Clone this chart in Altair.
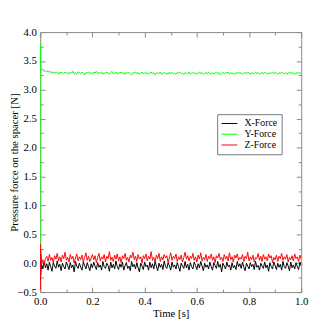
import altair as alt
import pandas as pd

# ---- data ----
t_start = [0.0, 0.0005, 0.001, 0.0015, 0.002, 0.003, 0.004]
t_grid = [round(0.005 * (i + 1), 3) for i in range(200)]
times = t_start + t_grid

x_force = [0.0, -0.30, 0.10, -0.15, 0.05, -0.10, 0.02,
    -0.02,-0.10,0.03,-0.08,-0.01,-0.12,0.02,-0.06,-0.14,0.01,-0.05,-0.09,0.04,-0.07,-0.02,-0.13,0.00,-0.06,-0.10,0.02,
    -0.04,-0.11,0.01,-0.08,-0.03,-0.15,0.03,-0.05,-0.09,0.00,-0.07,-0.12,0.02,-0.04,-0.10,0.01,-0.06,-0.13,-0.01,-0.08,
    0.02,-0.05,-0.11,0.01,-0.07,-0.03,-0.12,0.03,-0.06,-0.09,0.00,-0.04,-0.14,0.02,-0.08,-0.02,-0.10,0.04,-0.06,-0.11,
    -0.01,-0.07,0.02,-0.12,-0.04,0.01,-0.09,-0.05,-0.13,0.03,-0.06,-0.02,-0.10,0.01,-0.08,-0.15,0.00,-0.05,-0.11,0.02,
    -0.06,-0.03,-0.12,0.02,-0.08,-0.01,-0.10,0.03,-0.05,-0.13,0.00,-0.07,-0.02,-0.11,0.04,-0.06,-0.09,0.01,-0.04,-0.12,
    0.02,-0.07,-0.03,-0.10,0.01,-0.06,-0.14,0.00,-0.05,-0.09,0.03,-0.08,-0.02,-0.12,0.01,-0.06,-0.10,0.02,-0.04,-0.11,
    -0.01,-0.08,0.03,-0.05,-0.13,0.00,-0.07,-0.03,-0.10,0.02,-0.06,-0.12,0.01,-0.04,-0.09,0.03,-0.07,-0.02,-0.15,0.00,
    -0.05,-0.10,0.02,-0.06,-0.03,-0.12,0.01,-0.08,-0.04,-0.11,0.03,-0.06,-0.01,-0.09,0.02,-0.07,-0.13,0.00,-0.05,-0.10,
    0.01,-0.06,-0.02,-0.11,0.03,-0.07,-0.04,-0.12,0.00,-0.05,-0.09,0.02,-0.08,-0.03,-0.14,0.01,-0.06,-0.10,0.02,-0.04,
    -0.11,0.00,-0.07,-0.02,-0.12,0.03,-0.06,-0.09,0.01,-0.05,-0.13,0.02,-0.08,-0.03,-0.10,0.01,-0.06,-0.11,0.02,-0.05]

y_force = [0.0, 3.80, 3.55, 3.42, 3.38, 3.36, 3.35,
    3.34,3.36,3.32,3.33,3.31,3.33,3.30,3.32,3.29,3.31,3.28,3.31,3.30,3.27,3.31,3.29,3.30,3.28,3.31,3.29,
    3.30,3.27,3.31,3.29,3.32,3.28,3.30,3.27,3.31,3.30,3.28,3.31,3.29,3.26,3.30,3.29,3.31,3.28,3.30,3.27,
    3.31,3.29,3.32,3.28,3.30,3.29,3.31,3.27,3.30,3.28,3.31,3.29,3.27,3.30,3.32,3.28,3.29,3.31,3.27,3.30,
    3.29,3.31,3.28,3.30,3.27,3.31,3.29,3.30,3.28,3.26,3.30,3.29,3.31,3.28,3.30,3.27,3.29,3.31,3.28,3.30,
    3.28,3.30,3.27,3.29,3.31,3.28,3.30,3.26,3.29,3.30,3.28,3.31,3.27,3.29,3.30,3.28,3.29,3.27,3.31,3.28,
    3.30,3.28,3.29,3.27,3.30,3.29,3.31,3.28,3.29,3.27,3.30,3.28,3.29,3.31,3.27,3.29,3.30,3.28,3.30,3.27,
    3.29,3.31,3.28,3.30,3.27,3.29,3.30,3.28,3.31,3.29,3.27,3.30,3.28,3.29,3.31,3.28,3.30,3.26,3.29,3.30,
    3.28,3.30,3.29,3.31,3.27,3.30,3.28,3.29,3.27,3.30,3.29,3.31,3.28,3.30,3.27,3.29,3.30,3.28,3.31,3.29,
    3.27,3.30,3.28,3.29,3.31,3.28,3.30,3.27,3.29,3.30,3.28,3.31,3.29,3.27,3.30,3.28,3.29,3.31,3.28,3.30,
    3.29,3.27,3.30,3.28,3.31,3.29,3.28,3.30,3.27,3.29,3.31,3.28,3.30,3.29,3.27,3.30,3.28,3.31,3.29,3.28]

z_force = [0.0, 0.33, -0.45, 0.25, -0.20, 0.15, -0.02,
    0.00,0.06,-0.02,0.08,0.12,0.03,0.15,0.05,0.10,0.01,0.13,0.07,0.17,0.04,0.11,0.02,0.14,0.08,0.19,0.05,
    0.10,0.02,0.15,0.07,0.12,0.00,0.09,0.16,0.04,0.11,0.06,0.14,0.02,0.10,0.18,0.05,0.12,0.03,0.09,0.15,
    0.06,0.13,0.01,0.10,0.17,0.04,0.11,0.07,0.15,0.02,0.12,0.08,0.20,0.05,0.10,0.03,0.14,0.07,0.16,0.04,
    0.11,0.01,0.13,0.08,0.17,0.05,0.10,0.02,0.14,0.09,0.19,0.06,0.12,0.03,0.15,0.07,0.11,0.00,0.13,0.08,
    0.16,0.04,0.12,0.07,0.20,0.05,0.10,0.02,0.14,0.08,0.17,0.03,0.11,0.06,0.15,0.09,0.13,0.01,0.10,0.18,
    0.05,0.12,0.08,0.16,0.03,0.11,0.06,0.14,0.02,0.10,0.19,0.07,0.13,0.04,0.12,0.08,0.17,0.05,0.11,0.02,
    0.14,0.07,0.18,0.04,0.10,0.06,0.15,0.03,0.12,0.08,0.16,0.05,0.11,0.01,0.13,0.09,0.17,0.06,0.10,0.03,
    0.15,0.07,0.12,0.04,0.18,0.06,0.11,0.02,0.14,0.09,0.16,0.05,0.10,0.07,0.15,0.03,0.12,0.08,0.19,0.04,
    0.11,0.06,0.14,0.02,0.10,0.08,0.17,0.05,0.12,0.03,0.15,0.07,0.11,0.04,0.16,0.09,0.13,0.01,0.10,0.06,
    0.14,0.03,0.12,0.08,0.17,0.05,0.11,0.07,0.15,0.02,0.10,0.06,0.13,0.04,0.16,0.08,0.11,0.03,0.14,0.07]

series_names = ["X-Force", "Y-Force", "Z-Force"]
series_colors = ["#000000", "#00ff00", "#ff0000"]

x_major = [0.0, 0.2, 0.4, 0.6, 0.8, 1.0]
x_minor = [0.1, 0.3, 0.5, 0.7, 0.9]
y_major = [-0.5, 0.0, 0.5, 1.0, 1.5, 2.0, 2.5, 3.0, 3.5, 4.0]
y_minor = [-0.25, 0.25, 0.75, 1.25, 1.75, 2.25, 2.75, 3.25, 3.75]

rows = []
for name, vals in zip(series_names, [x_force, y_force, z_force]):
    for t, v in zip(times, vals):
        rows.append({"t": t, "v": v, "series": name})
df = pd.DataFrame(rows)
axis_df = pd.DataFrame({"t": [0.0], "v": [0.0]})

FONT = "Liberation Serif"
AX = "#888888"
xs = alt.Scale(domain=[0, 1], nice=False, zero=False)
ys = alt.Scale(domain=[-0.5, 4.0], nice=False, zero=False)

legend = alt.Legend(
    title=None, orient="none", legendX=181, legendY=84,
    fillColor="white", strokeColor="#777777", padding=4,
    symbolType="M-1,0H2.2", symbolSize=100, symbolStrokeWidth=1,
    labelFont=FONT, labelFontSize=10, labelColor="black", labelOffset=13,
    rowPadding=0,
)

lines = alt.Chart(df).mark_line(strokeWidth=1, clip=True).encode(
    x=alt.X("t:Q", scale=xs, axis=None),
    y=alt.Y("v:Q", scale=ys, axis=None),
    color=alt.Color("series:N", scale=alt.Scale(domain=series_names, range=series_colors), legend=legend),
)


def tick_axis(orient, values, size):
    return alt.Axis(orient=orient, values=values, tickSize=size, offset=-size,
                    labels=False, domain=False, grid=False, title="", tickColor=AX, tickWidth=1)


def axis_layer(xaxis, yaxis):
    return alt.Chart(axis_df).mark_point(opacity=0).encode(
        x=alt.X("t:Q", scale=xs, axis=xaxis),
        y=alt.Y("v:Q", scale=ys, axis=yaxis),
    )


label_x = alt.Axis(orient="bottom", values=x_major, format=".1f", ticks=False, tickSize=0,
                   domain=False, grid=False, labelPadding=4, labelFont=FONT, labelFontSize=11,
                   labelColor="black", labelFlush=False, labelOverlap=False,
                   title="Time [s]", titleFont=FONT, titleFontSize=11, titleFontWeight="normal",
                   titleColor="black", titlePadding=1)
label_y = alt.Axis(orient="left", values=y_major, format=".1f", ticks=False, tickSize=0,
                   domain=False, grid=False, labelPadding=4, labelFont=FONT, labelFontSize=11,
                   labelColor="black", labelFlush=False, labelOverlap=False,
                   title="Pressure force on the spacer [N]", titleFont=FONT, titleFontSize=11,
                   titleFontWeight="normal", titleColor="black", titleX=-21, titleBaseline="bottom")

layers = [
    axis_layer(label_x, label_y),
    axis_layer(tick_axis("bottom", x_major, 5), tick_axis("left", y_major, 5)),
    axis_layer(tick_axis("bottom", x_minor, 3), tick_axis("left", y_minor, 3)),
    axis_layer(tick_axis("top", x_major, 5), tick_axis("right", y_major, 5)),
    axis_layer(tick_axis("top", x_minor, 3), tick_axis("right", y_minor, 3)),
    lines,
]

chart = alt.layer(*layers).resolve_axis(x="independent", y="independent").properties(
    width=267, height=266,
    autosize=alt.AutoSizeParams(type="none"),
    padding={"left": 33, "top": 21, "right": 10, "bottom": 29},
).configure(
    font=FONT,
).configure_axis(
    labelFont=FONT, titleFont=FONT, titleFontWeight="normal",
).configure_legend(
    labelFont=FONT,
).configure_view(stroke=AX, strokeWidth=1)

chart.save("out.html", embed_options={"renderer": "svg", "actions": False})
